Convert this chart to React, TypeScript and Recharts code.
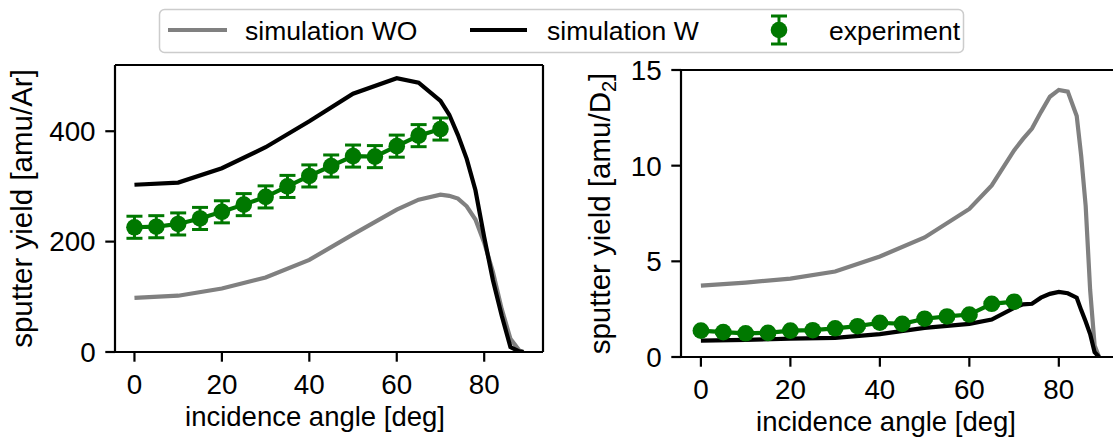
import React from 'react';
import { ComposedChart, Line, XAxis, YAxis, ErrorBar, Label, ReferenceLine } from 'recharts';

// left panel (Ar)
const simAnglesL = [0, 10, 20, 30, 40, 50, 60, 65, 70, 72, 74, 76, 78, 80, 82, 84, 86, 88, 89];
const woL = [98, 102, 115, 135, 167, 213, 258, 276, 285, 283, 278, 264, 240, 198, 145, 78, 24, 3, 0];
const wL = [303, 307, 333, 371, 418, 468, 496, 488, 455, 430, 393, 350, 293, 208, 130, 66, 9, 1, 0];

// right panel (D2)
const simAnglesR = [0, 10, 20, 30, 40, 50, 60, 65, 70, 72, 74, 76, 78, 80, 82, 84, 85, 86, 87, 88, 89];
const woR = [3.73, 3.89, 4.1, 4.47, 5.25, 6.25, 7.74, 8.97, 10.8, 11.4, 11.94, 12.8, 13.6, 13.96, 13.87, 12.6, 10.5, 7.9, 3.5, 0.6, 0];
const wR = [0.86, 0.89, 0.96, 1.0, 1.2, 1.52, 1.73, 1.96, 2.57, 2.75, 2.78, 3.1, 3.3, 3.4, 3.33, 3.1, 2.45, 1.85, 1.2, 0.25, 0];

// experiment
const expAngles = [0, 5, 10, 15, 20, 25, 30, 35, 40, 45, 50, 55, 60, 65, 70];
const expL = [226, 227, 232, 242, 254, 267, 281, 300, 319, 337, 355, 354, 373, 392, 404];
const expLErr = [20, 20, 20, 20, 20, 20, 20, 20, 20, 20, 20, 20, 20, 20, 20];
const expR = [1.38, 1.3, 1.24, 1.26, 1.38, 1.4, 1.5, 1.61, 1.79, 1.73, 2.0, 2.12, 2.22, 2.78, 2.89];
const expRErr = [0.07, 0.07, 0.07, 0.07, 0.07, 0.07, 0.07, 0.07, 0.07, 0.07, 0.07, 0.07, 0.07, 0.07, 0.07];

const xTicks = [0, 20, 40, 60, 80];
const yTicksL = [0, 200, 400];
const yTicksR = [0, 5, 10, 15];
const xDomain = [-4.45, 93.45];

const GRAY = '#808080';
const GREEN = '#007800';
const FONT = '"Liberation Sans", Arial, sans-serif';
const FS = 27.8;
const FS_XLABEL = 27.5;
const FS_YLABEL = 29.5;
const FS_LEGEND = 26.5;
const LW = 4.2;

const pts = (xs: number[], ys: number[]) => xs.map((x, i) => ({ x, y: ys[i] }));
const ptsErr = (xs: number[], ys: number[], es: number[]) => xs.map((x, i) => ({ x, y: ys[i], err: es[i] }));

const tickStyle = { fontSize: FS, fill: '#000', fontFamily: FONT };
const lineStyle = { stroke: '#000', strokeWidth: 2.2 };

const XLabel = (props: any) => {
  const vb = props.viewBox || { x: 0, y: 0, width: 0, height: 0 };
  return (
    <text x={vb.x + vb.width / 2 - 14} y={vb.y + 74} textAnchor="middle" fontSize={FS_XLABEL} fill="#000" fontFamily={FONT}>
      incidence angle [deg]
    </text>
  );
};

const makeYLabel = (bx: number, sub: boolean) => (props: any) => {
  const vb = props.viewBox || { x: 0, y: 0, width: 0, height: 0 };
  const cx = vb.x + bx;
  const cy = vb.y + vb.height / 2;
  return (
    <text x={cx} y={cy} textAnchor="middle" fontSize={FS_YLABEL} fill="#000" fontFamily={FONT} transform={`rotate(-90, ${cx}, ${cy})`}>
      {sub ? (
        <>
          sputter yield [amu/D<tspan dy={6} fontSize={20}>2</tspan><tspan dy={-6}>]</tspan>
        </>
      ) : (
        'sputter yield [amu/Ar]'
      )}
    </text>
  );
};

const Panel = (p: {
  width: number;
  margin: any;
  yWidth: number;
  xHeight: number;
  yDomain: number[];
  yTicks: number[];
  wo: any[];
  w: any[];
  exp: any[];
  yLabelX: number;
  sub: boolean;
}) => (
  <ComposedChart width={p.width} height={439} margin={p.margin}>
    <XAxis
      type="number"
      dataKey="x"
      domain={xDomain}
      ticks={xTicks}
      height={p.xHeight}
      tickSize={9.7}
      tickMargin={12.3}
      tick={tickStyle}
      axisLine={lineStyle}
      tickLine={lineStyle}
      allowDataOverflow
    >
      <Label content={XLabel} />
    </XAxis>
    <YAxis
      type="number"
      domain={p.yDomain}
      ticks={p.yTicks}
      width={p.yWidth}
      tickSize={9.7}
      tickMargin={9.7}
      tick={tickStyle}
      axisLine={lineStyle}
      tickLine={lineStyle}
      allowDataOverflow
    >
      <Label content={makeYLabel(p.yLabelX, p.sub)} />
    </YAxis>
    {/* top and right spines */}
    <ReferenceLine y={p.yDomain[1]} stroke="#000" strokeWidth={2.2} />
    <ReferenceLine x={xDomain[1]} stroke="#000" strokeWidth={2.2} />
    <Line data={p.wo} dataKey="y" stroke={GRAY} strokeWidth={LW} dot={false} activeDot={false} isAnimationActive={false} />
    <Line data={p.w} dataKey="y" stroke="#000" strokeWidth={LW} dot={false} activeDot={false} isAnimationActive={false} />
    <Line
      data={p.exp}
      dataKey="y"
      stroke={GREEN}
      strokeWidth={LW}
      dot={{ r: 8.3, fill: GREEN, stroke: GREEN, strokeWidth: 0 }}
      activeDot={false}
      isAnimationActive={false}
    >
      <ErrorBar dataKey="err" width={8} strokeWidth={3} stroke={GREEN} direction="y" isAnimationActive={false} />
    </Line>
  </ComposedChart>
);

const LegendBox = () => (
  <svg width={1113} height={60} style={{ position: 'absolute', left: 0, top: 0 }}>
    <rect x={159.5} y={9.5} width={804} height={43} rx={5} fill="#fff" stroke="#cccccc" strokeWidth={1.5} />
    <line x1={168} y1={30} x2={227} y2={30} stroke={GRAY} strokeWidth={LW} />
    <text x={245} y={39.5} fontSize={FS_LEGEND} fontFamily={FONT} fill="#000">simulation WO</text>
    <line x1={470} y1={30} x2={527} y2={30} stroke="#000" strokeWidth={LW} />
    <text x={547} y={39.5} fontSize={FS_LEGEND} fontFamily={FONT} fill="#000">simulation W</text>
    <line x1={779} y1={16} x2={779} y2={44} stroke={GREEN} strokeWidth={3} />
    <line x1={771} y1={16} x2={787} y2={16} stroke={GREEN} strokeWidth={3} />
    <line x1={771} y1={44} x2={787} y2={44} stroke={GREEN} strokeWidth={3} />
    <circle cx={779} cy={30} r={8.3} fill={GREEN} />
    <text x={829} y={39.5} fontSize={FS_LEGEND} fontFamily={FONT} fill="#000">experiment</text>
  </svg>
);

export default function App() {
  return (
    <div style={{ position: 'absolute', left: 0, top: 0, width: 1113, height: 439, overflow: 'hidden', background: '#fff', fontFamily: FONT }}>
      <div style={{ position: 'absolute', left: 0, top: 0 }}>
        <Panel
          width={560}
          margin={{ top: 65, right: 17, bottom: 0, left: 0 }}
          yWidth={115}
          xHeight={87}
          yDomain={[0, 520]}
          yTicks={yTicksL}
          wo={pts(simAnglesL, woL)}
          w={pts(simAnglesL, wL)}
          exp={ptsErr(expAngles, expL, expLErr)}
          yLabelX={32}
          sub={false}
        />
      </div>
      <div style={{ position: 'absolute', left: 560, top: 0 }}>
        <Panel
          width={570}
          margin={{ top: 70, right: 11, bottom: 0, left: 0 }}
          yWidth={121}
          xHeight={82}
          yDomain={[0, 15]}
          yTicks={yTicksR}
          wo={pts(simAnglesR, woR)}
          w={pts(simAnglesR, wR)}
          exp={ptsErr(expAngles, expR, expRErr)}
          yLabelX={50}
          sub={true}
        />
      </div>
      <LegendBox />
    </div>
  );
}
